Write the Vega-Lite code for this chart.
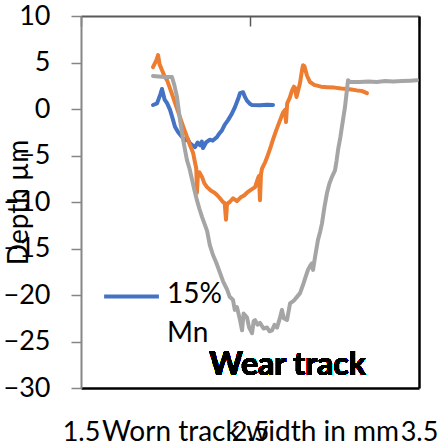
{
  "$schema": "https://vega.github.io/schema/vega-lite/v6.json",
  "width": 338,
  "height": 372,
  "autosize": "none",
  "padding": {"left": 81, "top": 16, "right": 22, "bottom": 58},
  "config": {
    "font": "Lato",
    "view": {"stroke": null},
    "axis": {"grid": false, "labelColor": "#000000", "titleColor": "#000000", "titleFontWeight": "normal"}
  },
  "data": {"values": [
    {"s":"15% Mn","x":1.926,"y":0.43},{"s":"15% Mn","x":1.95,"y":0.6},{"s":"15% Mn","x":1.97,"y":1.6},{"s":"15% Mn","x":1.979,"y":2.15},{"s":"15% Mn","x":1.995,"y":1.0},{"s":"15% Mn","x":2.01,"y":0.6},{"s":"15% Mn","x":2.027,"y":-0.1},{"s":"15% Mn","x":2.042,"y":-1.0},{"s":"15% Mn","x":2.056,"y":-1.9},{"s":"15% Mn","x":2.075,"y":-2.5},{"s":"15% Mn","x":2.098,"y":-3.0},{"s":"15% Mn","x":2.115,"y":-3.4},{"s":"15% Mn","x":2.13,"y":-3.2},{"s":"15% Mn","x":2.145,"y":-3.7},{"s":"15% Mn","x":2.16,"y":-3.9},{"s":"15% Mn","x":2.175,"y":-4.1},{"s":"15% Mn","x":2.19,"y":-3.6},{"s":"15% Mn","x":2.204,"y":-3.9},{"s":"15% Mn","x":2.215,"y":-3.5},{"s":"15% Mn","x":2.222,"y":-4.2},{"s":"15% Mn","x":2.24,"y":-3.6},{"s":"15% Mn","x":2.263,"y":-3.3},{"s":"15% Mn","x":2.28,"y":-3.4},{"s":"15% Mn","x":2.305,"y":-3.0},{"s":"15% Mn","x":2.32,"y":-2.6},{"s":"15% Mn","x":2.334,"y":-2.3},{"s":"15% Mn","x":2.35,"y":-1.7},{"s":"15% Mn","x":2.37,"y":-1.2},{"s":"15% Mn","x":2.39,"y":-0.6},{"s":"15% Mn","x":2.411,"y":0.2},{"s":"15% Mn","x":2.43,"y":1.1},{"s":"15% Mn","x":2.441,"y":1.7},{"s":"15% Mn","x":2.459,"y":1.8},{"s":"15% Mn","x":2.47,"y":1.3},{"s":"15% Mn","x":2.482,"y":0.9},{"s":"15% Mn","x":2.5,"y":0.55},{"s":"15% Mn","x":2.512,"y":0.43},{"s":"15% Mn","x":2.56,"y":0.4},{"s":"15% Mn","x":2.6,"y":0.45},{"s":"15% Mn","x":2.636,"y":0.43},
    {"s":"Series 2","x":1.926,"y":4.5},{"s":"Series 2","x":1.945,"y":5.2},{"s":"Series 2","x":1.956,"y":5.8},{"s":"Series 2","x":1.965,"y":4.8},{"s":"Series 2","x":1.979,"y":4.2},{"s":"Series 2","x":1.995,"y":3.5},{"s":"Series 2","x":2.009,"y":3.1},{"s":"Series 2","x":2.025,"y":2.3},{"s":"Series 2","x":2.044,"y":1.3},{"s":"Series 2","x":2.065,"y":0.2},{"s":"Series 2","x":2.086,"y":-0.9},{"s":"Series 2","x":2.105,"y":-1.9},{"s":"Series 2","x":2.127,"y":-3.0},{"s":"Series 2","x":2.145,"y":-3.9},{"s":"Series 2","x":2.163,"y":-4.7},{"s":"Series 2","x":2.175,"y":-5.8},{"s":"Series 2","x":2.182,"y":-6.4},{"s":"Series 2","x":2.186,"y":-9.0},{"s":"Series 2","x":2.192,"y":-7.0},{"s":"Series 2","x":2.2,"y":-6.8},{"s":"Series 2","x":2.216,"y":-7.3},{"s":"Series 2","x":2.23,"y":-8.0},{"s":"Series 2","x":2.246,"y":-8.4},{"s":"Series 2","x":2.27,"y":-8.8},{"s":"Series 2","x":2.29,"y":-9.0},{"s":"Series 2","x":2.305,"y":-9.25},{"s":"Series 2","x":2.322,"y":-9.6},{"s":"Series 2","x":2.34,"y":-10.0},{"s":"Series 2","x":2.35,"y":-10.1},{"s":"Series 2","x":2.358,"y":-11.9},{"s":"Series 2","x":2.364,"y":-10.2},{"s":"Series 2","x":2.38,"y":-10.0},{"s":"Series 2","x":2.4,"y":-9.6},{"s":"Series 2","x":2.423,"y":-9.9},{"s":"Series 2","x":2.445,"y":-9.5},{"s":"Series 2","x":2.465,"y":-9.3},{"s":"Series 2","x":2.482,"y":-9.0},{"s":"Series 2","x":2.505,"y":-8.7},{"s":"Series 2","x":2.53,"y":-8.4},{"s":"Series 2","x":2.548,"y":-7.4},{"s":"Series 2","x":2.553,"y":-7.2},{"s":"Series 2","x":2.559,"y":-9.8},{"s":"Series 2","x":2.565,"y":-7.0},{"s":"Series 2","x":2.571,"y":-6.4},{"s":"Series 2","x":2.59,"y":-5.7},{"s":"Series 2","x":2.601,"y":-5.2},{"s":"Series 2","x":2.62,"y":-4.2},{"s":"Series 2","x":2.636,"y":-3.3},{"s":"Series 2","x":2.655,"y":-2.3},{"s":"Series 2","x":2.678,"y":-1.2},{"s":"Series 2","x":2.695,"y":-0.4},{"s":"Series 2","x":2.707,"y":-0.1},{"s":"Series 2","x":2.713,"y":-1.4},{"s":"Series 2","x":2.72,"y":0.6},{"s":"Series 2","x":2.735,"y":1.2},{"s":"Series 2","x":2.749,"y":2.0},{"s":"Series 2","x":2.76,"y":2.4},{"s":"Series 2","x":2.766,"y":2.3},{"s":"Series 2","x":2.775,"y":1.3},{"s":"Series 2","x":2.785,"y":2.0},{"s":"Series 2","x":2.796,"y":2.8},{"s":"Series 2","x":2.808,"y":4.2},{"s":"Series 2","x":2.814,"y":4.7},{"s":"Series 2","x":2.822,"y":4.6},{"s":"Series 2","x":2.837,"y":3.6},{"s":"Series 2","x":2.855,"y":2.9},{"s":"Series 2","x":2.88,"y":2.6},{"s":"Series 2","x":2.92,"y":2.4},{"s":"Series 2","x":2.956,"y":2.35},{"s":"Series 2","x":3.0,"y":2.3},{"s":"Series 2","x":3.04,"y":2.2},{"s":"Series 2","x":3.074,"y":2.15},{"s":"Series 2","x":3.1,"y":2.1},{"s":"Series 2","x":3.133,"y":2.0},{"s":"Series 2","x":3.16,"y":1.95},{"s":"Series 2","x":3.192,"y":1.7},
    {"s":"Series 3","x":1.926,"y":3.55},{"s":"Series 3","x":1.96,"y":3.5},{"s":"Series 3","x":2.0,"y":3.45},{"s":"Series 3","x":2.038,"y":3.44},{"s":"Series 3","x":2.052,"y":2.6},{"s":"Series 3","x":2.068,"y":1.3},{"s":"Series 3","x":2.086,"y":-1.2},{"s":"Series 3","x":2.104,"y":-3.3},{"s":"Series 3","x":2.127,"y":-5.5},{"s":"Series 3","x":2.142,"y":-6.4},{"s":"Series 3","x":2.157,"y":-7.6},{"s":"Series 3","x":2.172,"y":-8.8},{"s":"Series 3","x":2.186,"y":-9.8},{"s":"Series 3","x":2.2,"y":-10.7},{"s":"Series 3","x":2.216,"y":-11.6},{"s":"Series 3","x":2.23,"y":-12.3},{"s":"Series 3","x":2.246,"y":-13.1},{"s":"Series 3","x":2.262,"y":-14.6},{"s":"Series 3","x":2.281,"y":-15.7},{"s":"Series 3","x":2.3,"y":-16.5},{"s":"Series 3","x":2.322,"y":-17.6},{"s":"Series 3","x":2.34,"y":-18.5},{"s":"Series 3","x":2.364,"y":-19.4},{"s":"Series 3","x":2.38,"y":-20.2},{"s":"Series 3","x":2.399,"y":-20.5},{"s":"Series 3","x":2.41,"y":-21.6},{"s":"Series 3","x":2.423,"y":-21.3},{"s":"Series 3","x":2.441,"y":-22.7},{"s":"Series 3","x":2.453,"y":-23.8},{"s":"Series 3","x":2.462,"y":-22.0},{"s":"Series 3","x":2.482,"y":-22.4},{"s":"Series 3","x":2.495,"y":-23.5},{"s":"Series 3","x":2.512,"y":-24.1},{"s":"Series 3","x":2.522,"y":-22.8},{"s":"Series 3","x":2.53,"y":-22.7},{"s":"Series 3","x":2.545,"y":-23.2},{"s":"Series 3","x":2.559,"y":-23.0},{"s":"Series 3","x":2.58,"y":-23.6},{"s":"Series 3","x":2.601,"y":-23.5},{"s":"Series 3","x":2.615,"y":-23.9},{"s":"Series 3","x":2.63,"y":-23.8},{"s":"Series 3","x":2.645,"y":-23.2},{"s":"Series 3","x":2.66,"y":-23.5},{"s":"Series 3","x":2.675,"y":-22.6},{"s":"Series 3","x":2.689,"y":-21.6},{"s":"Series 3","x":2.7,"y":-22.5},{"s":"Series 3","x":2.719,"y":-22.7},{"s":"Series 3","x":2.737,"y":-20.9},{"s":"Series 3","x":2.76,"y":-20.6},{"s":"Series 3","x":2.778,"y":-20.2},{"s":"Series 3","x":2.796,"y":-19.8},{"s":"Series 3","x":2.814,"y":-18.9},{"s":"Series 3","x":2.83,"y":-18.0},{"s":"Series 3","x":2.843,"y":-17.3},{"s":"Series 3","x":2.858,"y":-16.8},{"s":"Series 3","x":2.867,"y":-16.6},{"s":"Series 3","x":2.873,"y":-17.3},{"s":"Series 3","x":2.885,"y":-15.9},{"s":"Series 3","x":2.902,"y":-14.1},{"s":"Series 3","x":2.915,"y":-13.2},{"s":"Series 3","x":2.926,"y":-12.3},{"s":"Series 3","x":2.94,"y":-10.6},{"s":"Series 3","x":2.956,"y":-9.0},{"s":"Series 3","x":2.97,"y":-8.0},{"s":"Series 3","x":2.985,"y":-7.3},{"s":"Series 3","x":3.003,"y":-6.6},{"s":"Series 3","x":3.012,"y":-5.6},{"s":"Series 3","x":3.021,"y":-4.4},{"s":"Series 3","x":3.035,"y":-3.0},{"s":"Series 3","x":3.044,"y":-1.9},{"s":"Series 3","x":3.062,"y":0.2},{"s":"Series 3","x":3.072,"y":1.8},{"s":"Series 3","x":3.08,"y":3.1},{"s":"Series 3","x":3.092,"y":2.9},{"s":"Series 3","x":3.15,"y":2.9},{"s":"Series 3","x":3.2,"y":2.95},{"s":"Series 3","x":3.25,"y":2.9},{"s":"Series 3","x":3.3,"y":3.0},{"s":"Series 3","x":3.346,"y":2.95},{"s":"Series 3","x":3.4,"y":3.0},{"s":"Series 3","x":3.45,"y":3.05},{"s":"Series 3","x":3.488,"y":3.1}
  ]},
  "resolve": {"axis": {"x": "independent", "y": "independent"}},
  "layer": [
    {
      "mark": {"type": "line", "strokeWidth": 4, "strokeJoin": "round", "strokeCap": "round"},
      "encoding": {
        "x": {"field": "x", "type": "quantitative",
          "scale": {"domain": [1.5, 3.5], "nice": false, "zero": false},
          "axis": {"orient": "bottom", "values": [1.5, 2.5, 3.5], "format": ".1f", "ticks": false, "tickSize": 0,
            "domainColor": "#000000", "domainWidth": 2.5, "labelFontSize": 27, "labelBaseline": "alphabetic",
            "labelPadding": 52, "labelFlush": false, "labelOverlap": false,
            "title": "Worn track width in mm", "titleFontSize": 28, "titleX": 169, "titleY": 52,
            "titleBaseline": "alphabetic", "titleAlign": "center", "titleAnchor": null}},
        "y": {"field": "y", "type": "quantitative",
          "scale": {"domain": [-30, 10], "nice": false, "zero": false},
          "axis": {"orient": "left", "values": [-30, -25, -20, -15, -10, -5, 0, 5, 10], "tickSize": 10,
            "tickColor": "#868686", "tickWidth": 1.5, "domainColor": "#868686", "domainWidth": 2,
            "labelFontSize": 27, "labelPadding": 21, "labelOverlap": false, "labelFlush": false,
            "title": "Depth µm", "titleFontSize": 28, "titleX": -62, "titleY": 186, "titleAngle": 270,
            "titleBaseline": "middle", "titleAlign": "center"}},
        "color": {"field": "s", "type": "nominal",
          "scale": {"domain": ["15% Mn", "Series 2", "Series 3"], "range": ["#4472C4", "#ED7D31", "#A5A5A5"]},
          "legend": {"orient": "none", "legendX": 21, "legendY": 251, "values": ["15% Mn"], "title": null,
            "symbolType": "stroke", "symbolSize": 3000, "symbolStrokeWidth": 4, "padding": 0,
            "labelFontSize": 28, "labelColor": "#000000", "labelExpr": "['15%', 'Mn']",
            "labelBaseline": "top", "labelOffset": 6, "labelLimit": 200,
            "encode": {"labels": {"update": {"dy": {"value": -16}, "lineHeight": {"value": 39}}}}}}
      }
    },
    {
      "mark": {"type": "text", "text": "Wear track", "fontSize": 32, "fontWeight": "bold", "align": "center", "baseline": "middle", "color": "#000000"},
      "encoding": {
        "x": {"datum": 2.722, "type": "quantitative",
          "axis": {"orient": "top", "labels": false, "title": null, "values": [1.5, 2.5, 3.5], "tickSize": -10,
            "tickColor": "#595959", "tickWidth": 1.5, "domainColor": "#595959", "domainWidth": 2}},
        "y": {"datum": -27.5, "type": "quantitative",
          "axis": {"orient": "right", "labels": false, "ticks": false, "title": null,
            "domainColor": "#000000", "domainWidth": 2.5}}
      }
    }
  ]
}
